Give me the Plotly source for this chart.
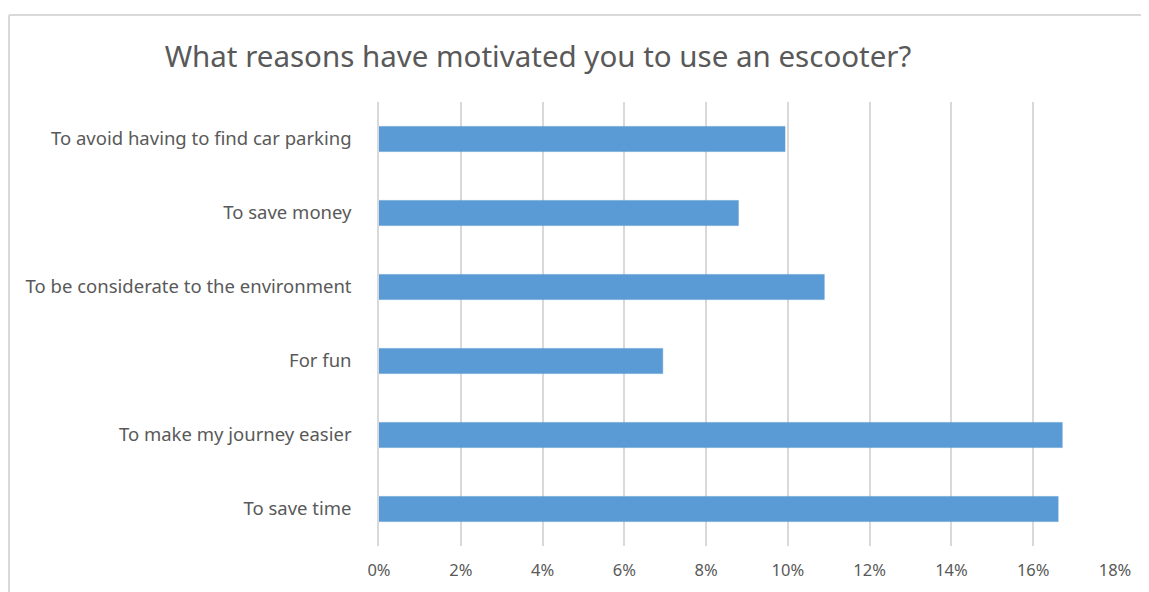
import plotly.graph_objects as go

categories = [
    "To avoid having to find car parking",
    "To save money",
    "To be considerate to the environment",
    "For fun",
    "To make my journey easier",
    "To save time",
]
values = [9.93, 8.79, 10.89, 6.94, 16.71, 16.61]
tick_vals = [0, 2, 4, 6, 8, 10, 12, 14, 16, 18]
tick_text = [f"{v}%" for v in tick_vals]
title_text = "What reasons have motivated you to use an escooter?"

FONT = "Noto Sans"
GRAY = "#595959"

fig = go.Figure(go.Bar(
    x=values, y=categories, orientation="h",
    marker=dict(color="#5b9bd5", line=dict(color="#5b9bd5", width=0.5)),
    hoverinfo="x+y",
))

# page offset (body margin) of 8px
O = 8
W, H = 1149 - O, 592 - O
L, R, T, B = 379 - O, W - (1115 - O), 102 - O, H - (546 - O)
pw, ph = W - L - R, H - T - B

def px_x(p):
    return (p - O - L) / pw

def px_y(p):
    return (H - B - (p - O)) / ph

fig.update_layout(
    width=W, height=H,
    margin=dict(l=L, r=R, t=T, b=B),
    paper_bgcolor="white", plot_bgcolor="white",
    bargap=0.66,
    showlegend=False,
    font=dict(family=FONT, color=GRAY, size=16),
    title=dict(text=title_text, x=(538 - O) / W, xanchor="center", xref="container",
               y=1 - (57 - O) / H, yanchor="middle", yref="container",
               font=dict(family=FONT, size=29.5, color=GRAY)),
    xaxis=dict(range=[0, 18], tickvals=tick_vals, ticktext=tick_text,
               showgrid=True, gridcolor="#d9d9d9", gridwidth=1.5,
               zeroline=False, showline=False, ticks="",
               ticklabelstandoff=12,
               tickfont=dict(family=FONT, size=16.5, color=GRAY)),
    yaxis=dict(autorange="reversed", showgrid=False, zeroline=False,
               showline=True, linecolor="#d9d9d9", linewidth=1.5, ticks="",
               ticklabelstandoff=22,
               tickfont=dict(family=FONT, size=18.5, color=GRAY)),
    shapes=[
        dict(type="line", xref="paper", yref="paper",
             x0=px_x(9), x1=px_x(1149 + 20), y0=px_y(15), y1=px_y(15),
             line=dict(color="#d9d9d9", width=2)),
        dict(type="line", xref="paper", yref="paper",
             x0=px_x(9), x1=px_x(9), y0=px_y(15), y1=px_y(592 + 20),
             line=dict(color="#d9d9d9", width=2)),
    ],
)

fig.write_html("out.html")
